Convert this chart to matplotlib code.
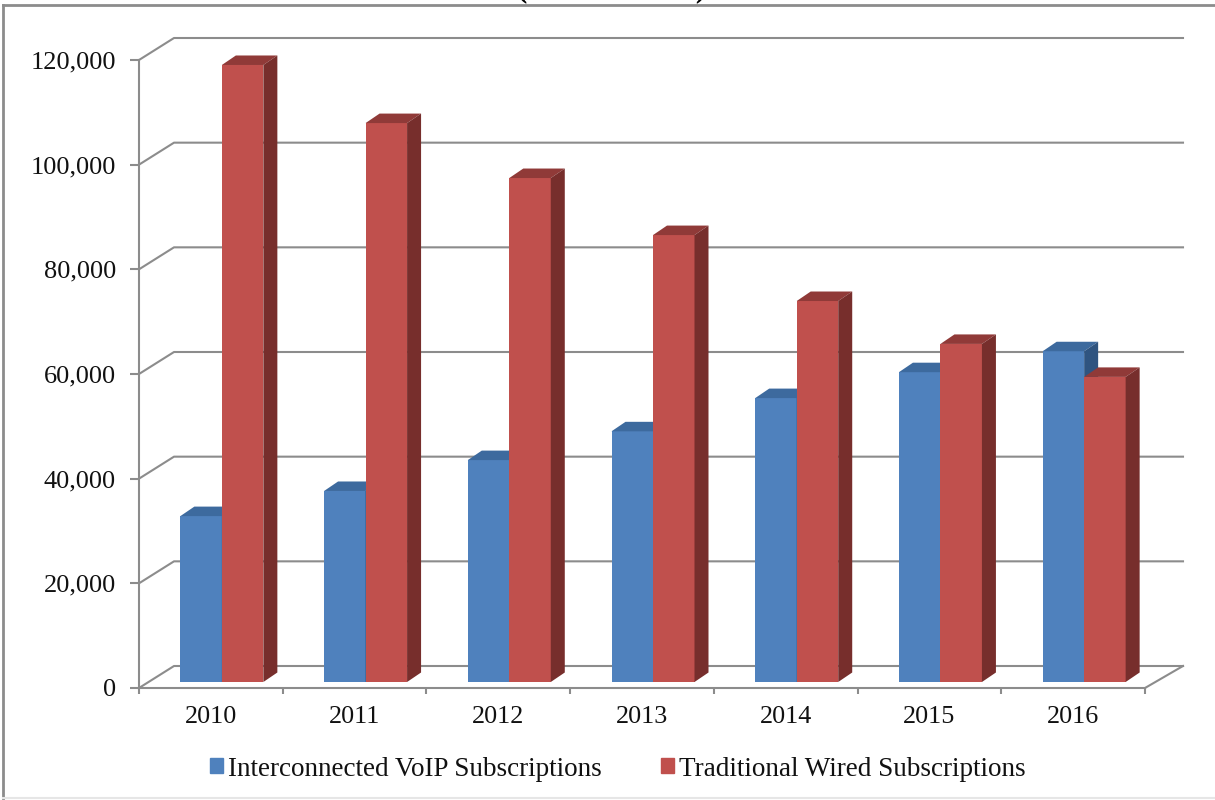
import numpy as np
import matplotlib
matplotlib.use("Agg")
import matplotlib.pyplot as plt
from matplotlib.patches import Rectangle

years = ["2010", "2011", "2012", "2013", "2014", "2015", "2016"]
voip = [31700, 36500, 42400, 47900, 54250, 59200, 63200]
wired = [117900, 106800, 96300, 85400, 72800, 64600, 58300]
y_ticks = [0, 20000, 40000, 60000, 80000, 100000, 120000]

W, H = 1215, 800
plt.rcParams['font.family'] = ['Liberation Serif', 'DejaVu Serif']

fig = plt.figure(figsize=(W / 100, H / 100), dpi=100)

# front plane of the fake 3D box, in pixels
left, right, top, bottom = 139, 1145, 60, 688
ax = fig.add_axes([left / W, 1 - bottom / H, (right - left) / W, (bottom - top) / H])
ax.set_xlim(-0.5, 6.5)
ax.set_ylim(0, 120000)
ax.patch.set_visible(False)

# pixel -> data sizes
px_x = 7 / (right - left)
px_y = 120000 / (bottom - top)

grid_c = "#8c8c8c"
text_c = "#111111"
wall_dx, wall_dy = 35 * px_x, 22 * px_y

# back wall grid and left wall diagonals
for v in y_ticks:
    ax.plot([-0.5, -0.5 + wall_dx, 6.5 + 38 * px_x],
            [v, v + wall_dy, v + wall_dy], color=grid_c, lw=1.5, clip_on=False, zorder=1)
ax.plot([6.5, 6.5 + 38 * px_x], [0, wall_dy], color=grid_c, lw=1.5, clip_on=False, zorder=1)

# bars sit a little behind the front plane
shift_x, shift_y = 11 * px_x, 6 * px_y
depth_x, depth_y = 14 * px_x, 9.5 * px_y
bar_w = 41.5 * px_x


def draw_bars(pos, values, face, top_c, side_c, z):
    x0 = np.arange(len(values)) + pos * bar_w + shift_x - bar_w
    ax.bar(x0, values, width=bar_w, bottom=shift_y, align="edge", color=face,
           edgecolor="none", zorder=z, clip_on=False)
    for x, v in zip(x0, values):
        t = v + shift_y
        x1 = x + bar_w
        ax.fill([x, x1, x1 + depth_x, x + depth_x], [t, t, t + depth_y, t + depth_y],
                color=top_c, lw=0, zorder=z, clip_on=False)
        ax.fill([x1, x1 + depth_x, x1 + depth_x, x1],
                [shift_y, shift_y + depth_y, t + depth_y, t],
                color=side_c, lw=0, zorder=z, clip_on=False)


draw_bars(0, voip, "#4f81bd", "#3d6a9e", "#2f5480", 3)
draw_bars(1, wired, "#c0504d", "#903a38", "#772e2c", 4)

for s in ["top", "right"]:
    ax.spines[s].set_visible(False)
for s in ["left", "bottom"]:
    ax.spines[s].set_color(grid_c)
    ax.spines[s].set_linewidth(1.5)
    ax.spines[s].set_zorder(5)

ax.set_yticks(y_ticks)
ax.set_yticklabels([f"{v:,}" for v in y_ticks], fontsize=19, color=text_c)
ax.set_xticks(np.arange(-0.5, 7))
ax.set_xticklabels([])
ax.set_xticks(np.arange(7), labels=years, minor=True, fontsize=18.8, color=text_c)
ax.tick_params(axis="x", which="major", length=4.3, width=1.5, color=grid_c)
ax.tick_params(axis="x", which="minor", length=0, pad=13)
ax.tick_params(axis="y", length=6.5, width=1.5, color=grid_c, pad=10)

handles = [Rectangle((0, 0), 1, 1, color="#4f81bd"), Rectangle((0, 0), 1, 1, color="#c0504d")]
leg = fig.legend(handles, ["Interconnected VoIP Subscriptions", "Traditional Wired Subscriptions"],
                 loc="center", bbox_to_anchor=(617.5 / W, 1 - 769 / H), ncol=2, frameon=False,
                 fontsize=19.5, handlelength=0.48, handleheight=0.48, handletextpad=0.18,
                 columnspacing=2.2, labelcolor=text_c)

# title is cut off by the top of the image, only the brackets' tails show
fig.text(612 / W, 1 + 4 / H, "(in thousands)", ha="center", va="baseline",
         fontsize=22.3, fontweight="bold", color="black")

# outer frame of the chart
fig.add_artist(plt.Line2D([3 / W, 3 / W], [1 - 5 / H, 1 - 798 / H], color=grid_c, lw=2))
fig.add_artist(plt.Line2D([3 / W, 1], [1 - 5 / H, 1 - 5 / H], color=grid_c, lw=2))
fig.add_artist(plt.Line2D([3 / W, 1], [1 - 798 / H, 1 - 798 / H], color="#e6e6e6", lw=1.5))

fig.savefig("out.png", dpi=100)
